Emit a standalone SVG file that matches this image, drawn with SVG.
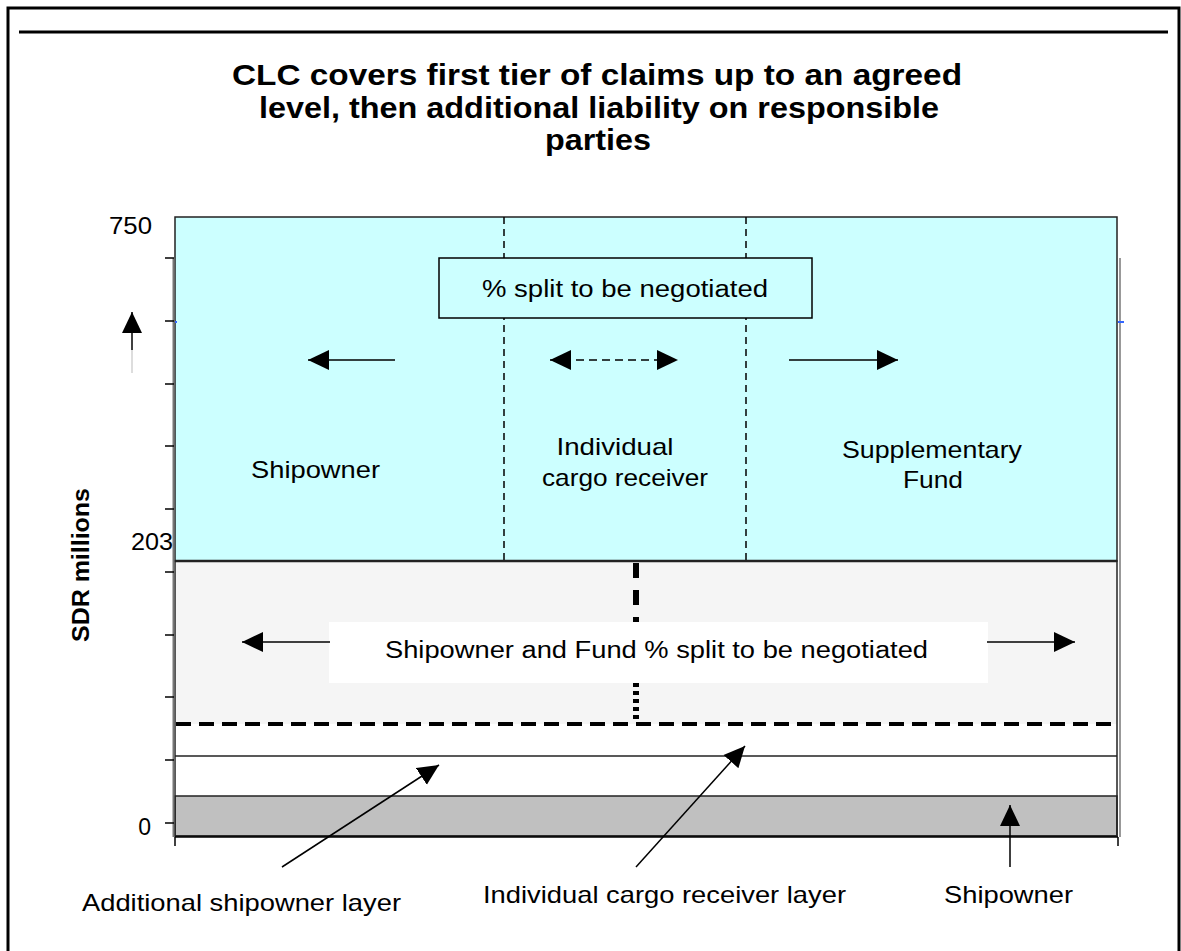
<svg xmlns="http://www.w3.org/2000/svg" width="1181" height="951" viewBox="0 0 1181 951">
<style>
text{font-family:"Liberation Sans",Arial,sans-serif;fill:#000}
.t{font-weight:bold;font-size:30px}
.lab{font-size:24px}
.ax{font-size:23px}
.ln{stroke:#000;stroke-width:1.5;fill:none}
.tick{stroke:#000;stroke-width:1.5}
</style>
<defs>
<marker id="ah" markerUnits="userSpaceOnUse" markerWidth="22" markerHeight="22" refX="21" refY="10" orient="auto-start-reverse" viewBox="0 0 22 20">
<path d="M0,0 L21,10 L0,20 Z" fill="#000"/>
</marker>
</defs>
<rect width="1181" height="951" fill="#fff"/>
<g id="frame">
<path d="M8,960 V8 H1179 V960" fill="none" stroke="#000" stroke-width="3"/>
<line x1="19" y1="32" x2="1168" y2="32" stroke="#000" stroke-width="3"/>
</g>
<g id="title" text-anchor="middle">
<text class="t" x="597" y="85" textLength="730" lengthAdjust="spacingAndGlyphs">CLC covers first tier of claims up to an agreed</text>
<text class="t" x="599" y="118" textLength="680" lengthAdjust="spacingAndGlyphs">level, then additional liability on responsible</text>
<text class="t" x="598" y="150" textLength="106" lengthAdjust="spacingAndGlyphs">parties</text>
</g>
<g id="upper-region">
<rect x="175" y="217" width="942" height="344" fill="#CCFFFF" stroke="#222" stroke-width="1.5"/>
<line x1="504" y1="217" x2="504" y2="560" stroke="#000" stroke-width="1.5" stroke-dasharray="7,5"/>
<line x1="746" y1="217" x2="746" y2="560" stroke="#000" stroke-width="1.5" stroke-dasharray="7,5"/>
</g>
<g id="lower-region">
<rect x="175" y="561" width="942" height="163" fill="#F5F5F5"/>
<rect x="175" y="796" width="942" height="40" fill="#C0C0C0" stroke="#222" stroke-width="1.5"/>
<rect x="175" y="561" width="942" height="275" fill="none" stroke="#222" stroke-width="1.5"/>
<line x1="175" y1="561" x2="1117" y2="561" stroke="#222" stroke-width="2.5"/>
<line x1="175" y1="756" x2="1117" y2="756" stroke="#222" stroke-width="1.5"/>
<line x1="176" y1="724" x2="1112" y2="724" stroke="#000" stroke-width="4" stroke-dasharray="15,8"/>
<line x1="636" y1="563" x2="636" y2="624" stroke="#000" stroke-width="6" stroke-dasharray="15,12"/>
<line x1="636" y1="683" x2="636" y2="722" stroke="#000" stroke-width="6" stroke-dasharray="4,4"/>
</g>
<g id="y-axis">
<line x1="173.5" y1="258" x2="173.5" y2="837" stroke="#777" stroke-width="2"/>
<line x1="1120" y1="258" x2="1120" y2="837" stroke="#999" stroke-width="2"/>
<line x1="1118" y1="322" x2="1124" y2="322" stroke="#3366FF" stroke-width="2"/>
<line x1="175" y1="322" x2="177" y2="322" stroke="#3366FF" stroke-width="2"/>
<g class="tick">
<line x1="165" y1="258" x2="174" y2="258"/>
<line x1="165" y1="321" x2="174" y2="321"/>
<line x1="165" y1="384" x2="174" y2="384"/>
<line x1="165" y1="446" x2="174" y2="446"/>
<line x1="165" y1="509" x2="174" y2="509"/>
<line x1="165" y1="572" x2="174" y2="572"/>
<line x1="165" y1="635" x2="174" y2="635"/>
<line x1="165" y1="697" x2="174" y2="697"/>
<line x1="165" y1="760" x2="174" y2="760"/>
<line x1="165" y1="823" x2="174" y2="823"/>
</g>
<line x1="175" y1="837" x2="1118" y2="837" stroke="#000" stroke-width="1.5"/>
<line x1="175" y1="837" x2="175" y2="846" stroke="#000" stroke-width="1.5"/>
<line x1="1118" y1="837" x2="1118" y2="846" stroke="#000" stroke-width="1.5"/>
<text class="ax" x="152" y="234" text-anchor="end" textLength="43" lengthAdjust="spacingAndGlyphs">750</text>
<text class="ax" x="173" y="550" text-anchor="end" textLength="42" lengthAdjust="spacingAndGlyphs">203</text>
<text class="ax" x="151" y="835" text-anchor="end">0</text>
<text font-weight="bold" font-size="24" text-anchor="middle" transform="translate(89,565) rotate(-90)" textLength="154" lengthAdjust="spacingAndGlyphs">SDR millions</text>
<line x1="132" y1="350" x2="132" y2="373" stroke="#bbb" stroke-width="1"/>
<line class="ln" x1="132" y1="350" x2="132" y2="312" marker-end="url(#ah)"/>
</g>
<g id="split-box">
<rect x="439" y="258" width="373" height="60" fill="#CCFFFF" stroke="#000" stroke-width="1.5"/>
<text class="ax" x="625" y="297" text-anchor="middle" textLength="286" lengthAdjust="spacingAndGlyphs">% split to be negotiated</text>
</g>
<g id="node-shipowner">
<text class="lab" x="315.5" y="478" text-anchor="middle" textLength="129" lengthAdjust="spacingAndGlyphs">Shipowner</text>
</g>
<g id="node-cargo-receiver" text-anchor="middle">
<text class="lab" x="615" y="455" textLength="117" lengthAdjust="spacingAndGlyphs">Individual</text>
<text class="lab" x="625" y="486" textLength="166" lengthAdjust="spacingAndGlyphs">cargo receiver</text>
</g>
<g id="node-supplementary" text-anchor="middle">
<text class="lab" x="932" y="458" textLength="180" lengthAdjust="spacingAndGlyphs">Supplementary</text>
<text class="lab" x="933" y="488" textLength="60" lengthAdjust="spacingAndGlyphs">Fund</text>
</g>
<g id="node-lower-label">
<rect x="329" y="622" width="659" height="61" fill="#fff"/>
<text class="ax" x="656.5" y="658" text-anchor="middle" textLength="543" lengthAdjust="spacingAndGlyphs">Shipowner and Fund % split to be negotiated</text>
</g>
<g id="node-bottom-labels">
<text class="lab" x="82" y="911" textLength="319" lengthAdjust="spacingAndGlyphs">Additional shipowner layer</text>
<text class="lab" x="483" y="903" textLength="363" lengthAdjust="spacingAndGlyphs">Individual cargo receiver layer</text>
<text class="lab" x="944" y="903" textLength="129" lengthAdjust="spacingAndGlyphs">Shipowner</text>
</g>
<g id="connectors">
<line class="ln" x1="395" y1="360" x2="308" y2="360" marker-end="url(#ah)"/>
<line class="ln" x1="550" y1="360" x2="678" y2="360" stroke-dasharray="8,5" marker-start="url(#ah)" marker-end="url(#ah)"/>
<line class="ln" x1="789" y1="360" x2="898" y2="360" marker-end="url(#ah)"/>
<line class="ln" x1="330" y1="642" x2="242" y2="642" marker-end="url(#ah)"/>
<line class="ln" x1="987" y1="642" x2="1075" y2="642" marker-end="url(#ah)"/>
<line class="ln" x1="282" y1="867" x2="439" y2="765" marker-end="url(#ah)"/>
<line class="ln" x1="636" y1="867" x2="745" y2="746" marker-end="url(#ah)"/>
<line class="ln" x1="1010" y1="867" x2="1010" y2="805" marker-end="url(#ah)"/>
</g>
</svg>
